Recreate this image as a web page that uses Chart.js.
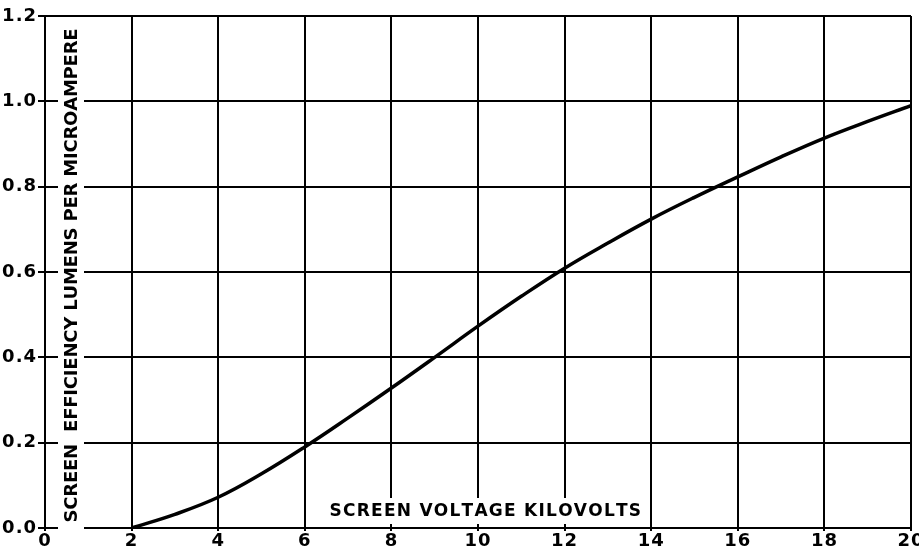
<!DOCTYPE html>
<html>
<head>
<meta charset="utf-8">
<script src="https://cdn.jsdelivr.net/npm/chart.js@4"></script>
<style>
  html, body { margin: 0; padding: 0; background: #fff; }
  #wrap { width: 919px; height: 546px; }
</style>
</head>
<body>
<div id="wrap"><canvas id="myChart" width="919" height="546"></canvas></div>
<script>
// screen voltage (kV) and screen efficiency (lumens per microampere)
const voltage = [2, 3, 4, 5, 6, 7, 8, 9, 10, 11, 12, 13, 14, 15, 16, 17, 18, 19, 20];
const efficiency = [0, 0.032, 0.072, 0.127, 0.19, 0.258, 0.328, 0.40, 0.473, 0.543, 0.609, 0.668, 0.724, 0.775, 0.823, 0.87, 0.914, 0.953, 0.99];

const xTitle = "SCREEN VOLTAGE KILOVOLTS";
const yTitle = "SCREEN  EFFICIENCY LUMENS PER MICROAMPERE";

const points = voltage.map((v, i) => ({ x: v, y: efficiency[i] }));

// draw text spread to a given length, with white box behind it (breaks the grid like the original)
function spreadText(ctx, text, cx, cy, length, size, rotate) {
    ctx.save();
    ctx.letterSpacing = "0px";
    ctx.translate(cx, cy);
    if (rotate) ctx.rotate(-Math.PI / 2);
    ctx.font = "bold " + size + "px 'DejaVu Sans'";
    const plain = ctx.measureText(text).width;
    const gap = (length - plain) / (text.length - 1);
    ctx.fillStyle = "#fff";
    ctx.fillRect(-length / 2 - 8, -13, length + 16, 26);
    ctx.fillStyle = "#000";
    ctx.textBaseline = "middle";
    let x = -length / 2;
    for (const ch of text) {
        ctx.fillText(ch, x, 1);
        x += ctx.measureText(ch).width + gap;
    }
    ctx.restore();
}

const titlesPlugin = {
    id: "titles",
    beforeDraw(chart) {
        chart.ctx.letterSpacing = "1px";
    },
    afterDatasetsDraw(chart) {
        const ctx = chart.ctx;
        spreadText(ctx, xTitle, 481, 511, 303, 17, false);
        spreadText(ctx, yTitle, 71, 276, 493, 18, true);
    }
};

new Chart("myChart", {
    type: "line",
    data: {
        datasets: [{
            data: points,
            borderColor: "#000",
            borderWidth: 3.5,
            pointRadius: 0,
            tension: 0.4,
            fill: false
        }]
    },
    options: {
        responsive: false,
        animation: false,
        layout: { padding: { top: 16, right: 8, left: 0, bottom: 0 } },
        plugins: {
            legend: { display: false },
            tooltip: { enabled: false }
        },
        scales: {
            x: {
                type: "linear",
                min: 0,
                max: 20,
                afterFit(scale) {
                    scale.height = 18;
                    scale.paddingLeft = 0;
                    scale.paddingRight = 0;
                },
                grid: { color: "#000", lineWidth: 2, tickLength: 3 },
                border: { color: "#000", width: 2 },
                ticks: {
                    stepSize: 2,
                    padding: 0,
                    color: "#000",
                    maxRotation: 0,
                    font: { family: "DejaVu Sans", size: 18, weight: "bold" }
                }
            },
            y: {
                min: 0,
                max: 1.2,
                afterFit(scale) {
                    scale.width = 45;
                    scale.paddingTop = 0;
                    scale.paddingBottom = 0;
                },
                grid: { color: "#000", lineWidth: 2, tickLength: 7 },
                border: { color: "#000", width: 2 },
                ticks: {
                    stepSize: 0.2,
                    padding: 1,
                    color: "#000",
                    font: { family: "DejaVu Sans", size: 18, weight: "bold" },
                    callback: v => v.toFixed(1)
                }
            }
        }
    },
    plugins: [titlesPlugin]
});
</script>
</body>
</html>
